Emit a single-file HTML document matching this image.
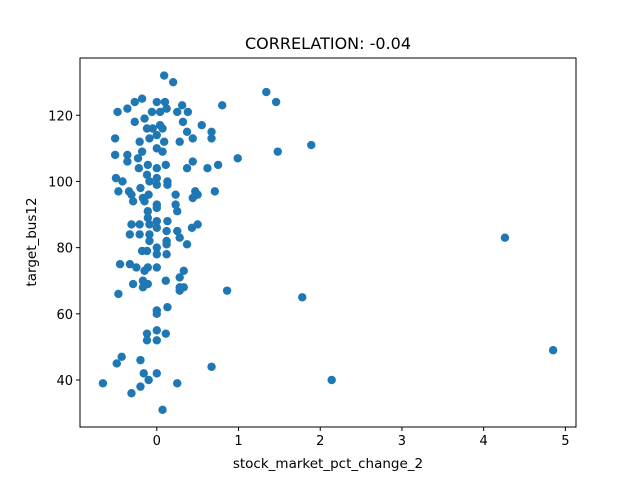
<!DOCTYPE html>
<html><head><meta charset="utf-8"><style>
body{margin:0;background:#fff;}
svg{display:block;font-family:"DejaVu Sans","Liberation Sans",sans-serif;}
</style></head><body>
<svg id="chart" width="640" height="480">
<rect x="0" y="0" width="640" height="480" fill="#fff"/>
<text x="328" y="49" font-size="16" text-anchor="middle">CORRELATION: -0.04</text>
<g id="points"></g>
<g id="axes"></g>
<text x="328" y="468" font-size="13.5" text-anchor="middle">stock_market_pct_change_2</text>
<text x="36" y="242" font-size="13.5" text-anchor="middle" transform="rotate(-90 36 242)">target_bus12</text>
</svg>
<script>
const xs=[0.09,0.20,0.80,-0.48,-0.36,-0.27,-0.18,0,0.10,0.31,0.38,-0.27,-0.15,-0.06,0.04,0.12,0.25,0.32,0.55,0.67,0.67,0.44,0.37,0.28,0.09,-0.51,-0.21,-0.12,-0.05,0.04,0.07,0,-0.09,-0.51,-0.36,-0.36,-0.23,-0.18,0,0.07,0.99,0.44,0.37,0.62,0.75,0.11,0,-0.11,-0.22,-0.12,-0.50,-0.42,-0.09,0,0,0.13,0.13,-0.47,-0.34,-0.20,-0.31,-0.29,-0.17,-0.10,-0.15,0.23,0.47,0.50,0.44,0.71,0,0,0.23,0.25,-0.11,-0.11,-0.31,-0.21,0,0.13,-0.09,0,0.12,-0.33,-0.21,-0.09,0.25,0.28,-0.09,0.12,0.37,0.43,0.50,-0.18,-0.12,0,0,0.12,0.12,-0.45,-0.33,-0.25,-0.11,-0.15,0,0.33,0.28,-0.29,-0.17,-0.11,-0.17,0.11,0.28,0.33,0.28,-0.47,0.86,0.13,0,0,0,-0.12,0.11,-0.12,0,-0.43,-0.49,-0.20,0.67,-0.16,0,-0.10,-0.66,-0.20,0.25,-0.31,0.07,1.34,1.46,1.48,1.78,1.89,2.14,4.26,4.85];
const ys=[132,130,123,121,122,124,125,124,124,123,121,118,119,121,121,122,121,118,117,115,113,113,115,112,112,113,112,116,116,117,116,114,113,108,108,106,107,109,110,109,107,106,104,104,105,105,104,105,104,102,101,100,100,101,99,100,99,97,97,98,96,94,95,96,94,96,97,96,95,97,93,92,93,91,91,89,87,87,88,88,87,86,85,84,84,84,85,83,82,82,81,86,87,79,79,80,78,81,78,75,75,74,74,73,74,73,71,69,70,69,68,70,68,68,67,66,67,62,61,60,55,54,54,52,52,47,45,46,44,42,42,40,39,38,39,36,31,127,124,109,65,111,40,83,49];
const xTicks=[0,1,2,3,4,5];
const yTicks=[40,60,80,100,120];
const L=80,R=576,T=58,B=427,xMin=-0.94,xMax=5.13,yMin=25.8,yMax=137.3;
const sx=v=>L+(v-xMin)/(xMax-xMin)*(R-L);
const sy=v=>B-(v-yMin)/(yMax-yMin)*(B-T);
const NS="http://www.w3.org/2000/svg";
const pg=document.getElementById('points');
xs.forEach((x,i)=>{
 const c=document.createElementNS(NS,'circle');
 c.setAttribute('cx',sx(x));c.setAttribute('cy',sy(ys[i]));c.setAttribute('r',4.2);c.setAttribute('fill','#1f77b4');
 
 
 pg.appendChild(c);
});
const ax=document.getElementById('axes');
const fr=document.createElementNS(NS,'rect');
fr.setAttribute('x',L);fr.setAttribute('y',T);fr.setAttribute('width',R-L);fr.setAttribute('height',B-T);
fr.setAttribute('fill','none');fr.setAttribute('stroke','#000');fr.setAttribute('stroke-width','1');


ax.appendChild(fr);
xTicks.forEach(t=>{
 const l=document.createElementNS(NS,'line');const x=sx(t);
 l.setAttribute('x1',x);l.setAttribute('x2',x);l.setAttribute('y1',B);l.setAttribute('y2',B+4);l.setAttribute('stroke','#000');
 
 
 ax.appendChild(l);
 const tx=document.createElementNS(NS,'text');
 tx.setAttribute('x',x);tx.setAttribute('y',B+18);tx.setAttribute('font-size','13');tx.setAttribute('text-anchor','middle');tx.textContent=t;
 
 
 ax.appendChild(tx);
});
yTicks.forEach(t=>{
 const l=document.createElementNS(NS,'line');const y=sy(t);
 l.setAttribute('x1',L-4);l.setAttribute('x2',L);l.setAttribute('y1',y);l.setAttribute('y2',y);l.setAttribute('stroke','#000');
 
 
 ax.appendChild(l);
 const tx=document.createElementNS(NS,'text');
 tx.setAttribute('x',L-7);tx.setAttribute('y',y+5);tx.setAttribute('font-size','13');tx.setAttribute('text-anchor','end');tx.textContent=t;
 
 
 ax.appendChild(tx);
});
</script>
</body></html>
